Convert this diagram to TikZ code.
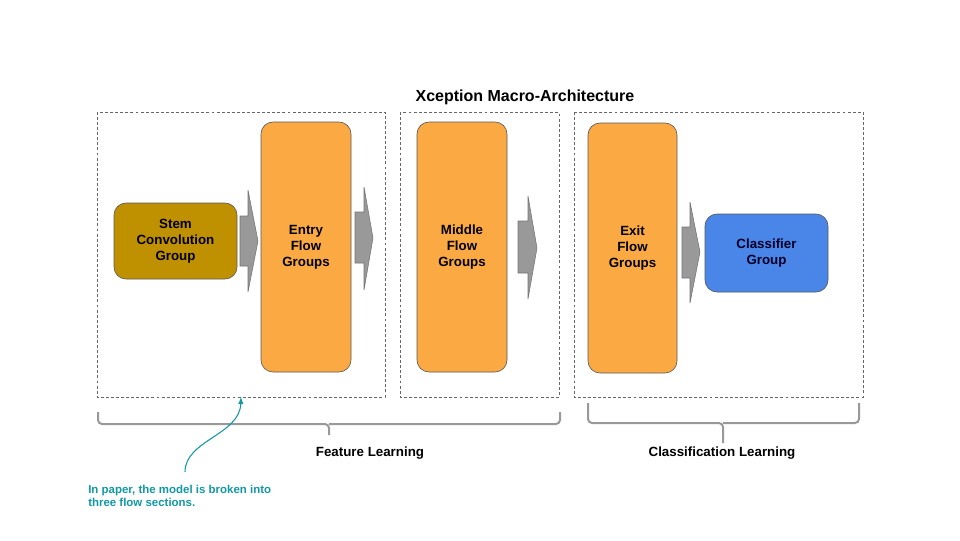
\documentclass[tikz,border=0pt]{standalone}
\usepackage{fontspec}
\setmainfont{Liberation Sans}
\definecolor{stemcol}{RGB}{191,144,0}
\definecolor{flowcol}{RGB}{251,170,67}
\definecolor{clscol}{RGB}{74,134,232}
\definecolor{notecol}{RGB}{18,152,165}
\begin{document}
\begin{tikzpicture}[x=0.75pt,y=-0.75pt,
  groupbox/.style={draw=black!65,line width=0.5pt,rounded corners=9pt,align=center,font={\fontsize{10}{12}\selectfont\bfseries},inner sep=0pt},
  sectionbox/.style={draw=black!60,line width=0.5pt,dash pattern=on 2.2pt off 1.6pt},
  blockarrow/.style={fill=black!40,draw=black!55,line width=0.4pt},
  bracket/.style={draw=black!40,line width=1.5pt,rounded corners=3pt},
  sectionlabel/.style={font={\fontsize{10}{12}\selectfont\bfseries}}]

\useasboundingbox (0,0) rectangle (960,540);

\node[font={\fontsize{12}{14}\selectfont\bfseries}] (title) at (525,97) {Xception Macro-Architecture};

\draw[sectionbox] (97,112) rectangle (385,397);
\draw[sectionbox] (400,112) rectangle (559,397);
\draw[sectionbox] (574,112) rectangle (863,397);

\node[groupbox,fill=stemcol,minimum width=92.25pt,minimum height=57pt] (stem) at (175.5,241) {Stem\\Convolution\\Group};
\node[groupbox,fill=flowcol,minimum width=67.5pt,minimum height=187.5pt] (entry) at (306,247) {Entry\\Flow\\Groups};
\node[groupbox,fill=flowcol,minimum width=67.5pt,minimum height=187.5pt] (middle) at (462,247) {Middle\\Flow\\Groups};
\node[groupbox,fill=flowcol,minimum width=66.75pt,minimum height=187.5pt] (exit) at (632.5,248) {Exit\\Flow\\Groups};
\node[groupbox,fill=clscol,minimum width=92.25pt,minimum height=58.5pt,text=black!85!blue] (classifier) at (766.5,253) {Classifier\\Group};

\filldraw[blockarrow] (240,216) -- (248,216) -- (248,190) -- (258,241) -- (248,292) -- (248,266) -- (240,266) -- cycle;
\filldraw[blockarrow] (355,212) -- (364,212) -- (364,187) -- (373,238) -- (364,290) -- (364,263) -- (355,263) -- cycle;
\filldraw[blockarrow] (518,221) -- (528,221) -- (528,196) -- (537,248) -- (528,299) -- (528,273) -- (518,273) -- cycle;
\filldraw[blockarrow] (682,227) -- (690,227) -- (690,202) -- (700,252) -- (690,303) -- (690,278) -- (682,278) -- cycle;

\draw[bracket] (98,412) -- (98,424) -- (329,424) -- (329,435);
\draw[bracket] (329,424) -- (560,424) -- (560,412);
\draw[bracket] (588,403) -- (588,423) -- (723,423) -- (723,443);
\draw[bracket] (723,423) -- (859,423) -- (859,403);

\node[sectionlabel] (featlbl) at (370,453.5) {Feature Learning};
\node[sectionlabel] (clslbl) at (722,453.5) {Classification Learning};

\node[anchor=north west,align=left,inner sep=0pt,text=notecol,font={\fontsize{8.6}{9.75}\selectfont\bfseries}] (note) at (88,485) {In paper, the model is broken into\\three flow sections.};
\coordinate (notetip) at (241,397);
\coordinate (notestart) at (185,472);
\draw[notecol,line width=0.8pt,-latex] (notestart) .. controls (185,440) and (240,435) .. (notetip);

\end{tikzpicture}
\end{document}
